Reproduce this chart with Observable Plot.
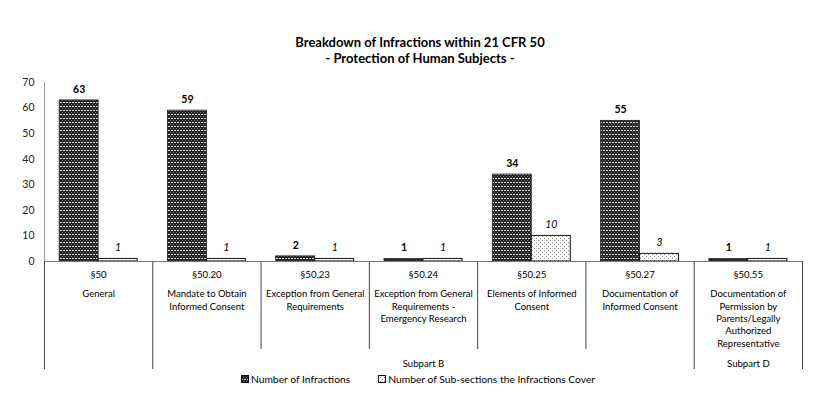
<!DOCTYPE html>
<html>
<head>
<meta charset="utf-8">
<script src="https://cdn.jsdelivr.net/npm/d3@7"></script>
<script src="https://cdn.jsdelivr.net/npm/@observablehq/plot@0.6"></script>
<style>
  body { margin: 0; background: #fff; font-family: Lato, "Open Sans", sans-serif; }
  #wrap { width: 824px; height: 420px; position: relative; }
  #title { height: 66px; box-sizing: border-box; padding-top: 34px; text-align: center; font-weight: bold; font-size: 13px; color: #000; padding-left: 16px; }
  #title div { height: 16px; line-height: 16px; margin-top: -8px; margin-bottom: 8px; }
  #title div:first-child { margin-top: 0; }
  #legend { display: flex; justify-content: center; align-items: center; font-size: 10.3px; color: #000; height: 14px; line-height: 14px; padding-left: 12px; }
  #legend .item { display: flex; align-items: center; margin: 0 14px; }
  #legend svg { margin-right: 2px; }
  svg.chart { display: block; }
</style>
</head>
<body>
<div id="wrap">
  <div id="title"><div>Breakdown of Infractions within 21 CFR 50</div><div>- Protection of Human Subjects -</div></div>
  <div id="chart"></div>
  <div id="legend"></div>
</div>
<script>
const sections = ["§50", "§50.20", "§50.23", "§50.24", "§50.25", "§50.27", "§50.55"];
const descriptions = [
  "General",
  "Mandate to Obtain\nInformed Consent",
  "Exception from General\nRequirements",
  "Exception from General\nRequirements -\nEmergency Research",
  "Elements of Informed\nConsent",
  "Documentation of\nInformed Consent",
  "Documentation of\nPermission by\nParents/Legally\nAuthorized\nRepresentative"
];
const subpartOf = [null, "Subpart B", "Subpart B", "Subpart B", "Subpart B", "Subpart B", "Subpart D"];
const infractions = [63, 59, 2, 1, 34, 55, 1];
const subsections = [1, 1, 1, 1, 10, 3, 1];
const seriesNames = ["Number of Infractions", "Number of Sub-sections the Infractions Cover"];
const yTicks = [0, 10, 20, 30, 40, 50, 60, 70];

const data = sections.map((s, i) => ({i, section: s, description: descriptions[i], infractions: infractions[i], subsections: subsections[i]}));

// category boundaries: short divider when both neighbours belong to the same subpart
const boundaries = d3.range(sections.length + 1).map(b => ({
  b,
  short: b > 0 && b < sections.length && subpartOf[b - 1] != null && subpartOf[b - 1] === subpartOf[b]
}));
// subpart groups
const groups = [];
subpartOf.forEach((g, i) => {
  if (g == null) return;
  const last = groups[groups.length - 1];
  if (last && last.label === g) last.to = i + 1;
  else groups.push({label: g, from: i, to: i + 1});
});

const font = "Lato, 'Open Sans', sans-serif";

const chart = Plot.plot({
  width: 824,
  height: 306,
  marginTop: 16,
  marginBottom: 111,
  marginLeft: 44,
  marginRight: 22,
  style: {fontFamily: font, background: "#fff", color: "#000"},
  x: {domain: [0, sections.length], axis: null},
  y: {domain: [0, 70], axis: null},
  marks: [
    Plot.axisY({ticks: yTicks, tickSize: 0, tickPadding: 10, fontSize: 10.5, fill: "#222"}),
    Plot.ruleX([0], {y1: 0, y2: 70, stroke: "#999", strokeWidth: 1}),
    // table dividers below the axis
    Plot.ruleX(boundaries.filter(d => !d.short), {x: "b", y1: 0, y2: 0, insetBottom: -108, stroke: "#444", strokeWidth: 1}),
    Plot.ruleX(boundaries.filter(d => d.short), {x: "b", y1: 0, y2: 0, insetBottom: -88, stroke: "#444", strokeWidth: 1}),
    Plot.rectY(data, {x1: d => d.i + 0.14, x2: d => d.i + 0.5, y: "infractions", fill: "url(#darkPat)", stroke: "#222", strokeWidth: 0.8}),
    Plot.rectY(data, {x1: d => d.i + 0.5, x2: d => d.i + 0.86, y: "subsections", fill: "url(#lightPat)", stroke: "#111", strokeWidth: 1}),
    Plot.ruleY([0], {stroke: "#777", strokeWidth: 1}),
    Plot.text(data, {x: d => d.i + 0.32, y: "infractions", text: d => String(d.infractions), dy: -11, fontWeight: "bold", fontSize: 10.5, fill: "#000"}),
    Plot.text(data, {x: d => d.i + 0.68, y: "subsections", text: d => String(d.subsections), dy: -11, fontStyle: "italic", fontSize: 10.5, fill: "#000"}),
    Plot.text(data, {x: d => d.i + 0.5, y: 0, text: "section", dy: 13, fontSize: 9.6, fill: "#000"}),
    Plot.text(data, {x: d => d.i + 0.5, y: 0, text: "description", dy: 27, lineAnchor: "top", lineHeight: 1.3, fontSize: 9.5, fill: "#000"}),
    Plot.text(groups, {x: d => (d.from + d.to) / 2, y: 0, text: "label", dy: 102, fontSize: 9.6, fill: "#000"})
  ]
});
chart.classList.add("chart");

const defs = d3.select(chart).insert("defs", ":first-child");
const dark = defs.append("pattern").attr("id", "darkPat").attr("patternUnits", "userSpaceOnUse").attr("width", 3).attr("height", 4);
dark.append("rect").attr("width", 3).attr("height", 4).attr("fill", "#262626");
dark.append("rect").attr("x", 0).attr("y", 0).attr("width", 2).attr("height", 1).attr("fill", "#dcdcdc");
dark.append("rect").attr("x", 2).attr("y", 2).attr("width", 1).attr("height", 1).attr("fill", "#6a6a6a");
const light = defs.append("pattern").attr("id", "lightPat").attr("patternUnits", "userSpaceOnUse").attr("width", 4).attr("height", 4);
light.append("rect").attr("width", 4).attr("height", 4).attr("fill", "#fff");
light.append("rect").attr("x", 0).attr("y", 0).attr("width", 1).attr("height", 1).attr("fill", "#888");
light.append("rect").attr("x", 2).attr("y", 2).attr("width", 1).attr("height", 1).attr("fill", "#888");

document.getElementById("chart").appendChild(chart);

const legend = d3.select("#legend");
const pats = ["url(#darkPat)", "url(#lightPat)"];
seriesNames.forEach((name, k) => {
  const item = legend.append("div").attr("class", "item");
  const sw = item.append("svg").attr("width", 8).attr("height", 8);
  sw.append("rect").attr("x", 0.5).attr("y", 0.5).attr("width", 7).attr("height", 7).attr("fill", pats[k]).attr("stroke", "#111").attr("stroke-width", 1);
  item.append("span").text(name);
});
</script>
</body>
</html>
